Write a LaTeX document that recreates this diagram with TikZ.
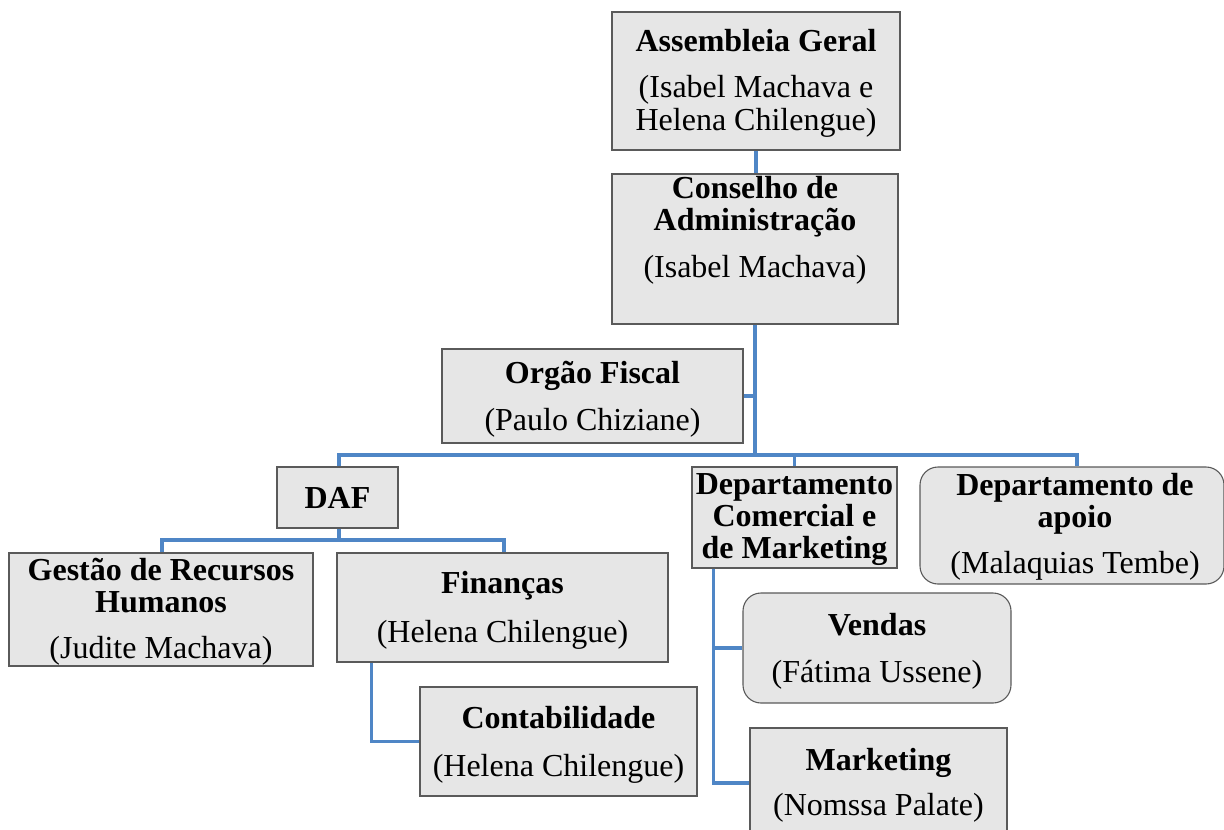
\documentclass[tikz,border=0pt]{standalone}
\usepackage{fontspec}
\setmainfont{Liberation Serif}
\definecolor{boxfill}{HTML}{E6E6E6}
\definecolor{boxline}{HTML}{5A5A5A}
\definecolor{conn}{HTML}{4F86C6}
\tikzset{
  orgbox/.style={draw=boxline, fill=boxfill, line width=1.1pt, inner sep=0pt, rectangle},
  roundbox/.style={orgbox, rounded corners=18pt},
  lbl/.style={anchor=base, align=center, inner sep=0pt, font=\fontsize{32}{32.5}\selectfont},
  link/.style={draw=conn, line width=3.2pt},
}
\begin{document}
\begin{tikzpicture}[x=1pt,y=-1pt]
\clip (0,0) rectangle (1224,830);
\fill[white] (0,0) rectangle (1224,830);
% boxes
\node[orgbox, minimum width=288pt, minimum height=138pt] (ag) at (756,81) {};
\node[orgbox, minimum width=286pt, minimum height=150pt] (ca) at (755,249) {};
\node[orgbox, minimum width=301pt, minimum height=94pt] (of) at (592.5,396) {};
\node[orgbox, minimum width=121pt, minimum height=61pt] (daf) at (337.5,497.5) {};
\node[orgbox, minimum width=304pt, minimum height=113pt] (grh) at (161,609.5) {};
\node[orgbox, minimum width=331pt, minimum height=109pt] (fin) at (502.5,607.5) {};
\node[orgbox, minimum width=277pt, minimum height=109pt] (con) at (558.5,741.5) {};
\node[orgbox, minimum width=205pt, minimum height=101pt] (dcm) at (794.5,517.5) {};
\node[roundbox, minimum width=304pt, minimum height=117pt] (da) at (1072,525.5) {};
\node[roundbox, minimum width=268pt, minimum height=110pt] (ven) at (877,648) {};
\node[orgbox, minimum width=257pt, minimum height=110pt] (mkt) at (878.5,783) {};
% texts (anchor = baseline of the last line)
\node[lbl] (agt) at (756,130) {\textbf{Assembleia Geral}\\[14pt](Isabel Machava e\\Helena Chilengue)};
\node[lbl] (cat) at (755,277) {\textbf{Conselho de}\\\textbf{Administração}\\[14pt](Isabel Machava)};
\node[lbl] (oft) at (592.5,430) {\textbf{Orgão Fiscal}\\[14pt](Paulo Chiziane)};
\node[lbl] (daft) at (337.5,508) {\textbf{DAF}};
\node[lbl] (grht) at (161,658) {\textbf{Gestão de Recursos}\\\textbf{Humanos}\\[13pt](Judite Machava)};
\node[lbl] (fint) at (502.5,642) {\textbf{Finanças}\\[16pt](Helena Chilengue)};
\node[lbl] (cont) at (558.5,776) {\textbf{Contabilidade}\\[15pt](Helena Chilengue)};
\node[lbl, font=\fontsize{32}{32}\selectfont] (dcmt) at (794.5,558) {\textbf{Departamento}\\\textbf{Comercial e}\\\textbf{de Marketing}};
\node[lbl] (dat) at (1075,573) {\textbf{Departamento de}\\\textbf{apoio}\\[13pt](Malaquias Tembe)};
\node[lbl] (vent) at (877,682) {\textbf{Vendas}\\[14pt](Fátima Ussene)};
\node[lbl] (mktt) at (878.5,815) {\textbf{Marketing}\\[12pt](Nomssa Palate)};
% connectors
\coordinate (bus) at (755,455);
\coordinate (bus2) at (339,540);
\draw[link] (ag.south) -- (ag.south |- ca.north);
\draw[link] (ca.south) -- (bus);
\draw[link] (of.east) -- (of.east -| bus);
\draw[link] ([xshift=1.5pt]daf.north) |- (bus) -| ([xshift=5pt]da.north);
\draw[link] (bus) -| (dcm.north);
\draw[link] ([xshift=1.5pt]daf.south) -- (bus2);
\draw[link] ([xshift=1pt]grh.north) |- (bus2) -| ([xshift=1.5pt]fin.north);
\draw[link] ([xshift=35pt]fin.south west) |- (con.west);
\draw[link] ([xshift=22pt]dcm.south west) |- (ven.west);
\draw[link] ([xshift=22pt]dcm.south west) |- (mkt.west);
\end{tikzpicture}
\end{document}
